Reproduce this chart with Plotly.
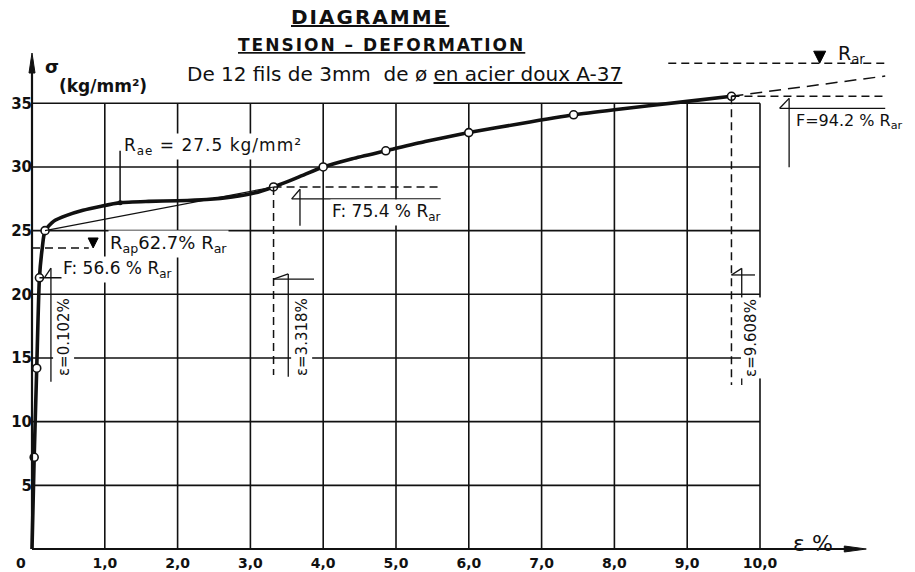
import plotly.graph_objects as go

# Stress-strain curve of a cable of 12 wires, 3 mm diameter, mild steel A-37
strain = [0.0, 0.03, 0.065, 0.102, 0.14, 0.179, 0.3, 0.477, 0.7, 0.934, 1.21, 1.6, 2.0,
          2.4, 2.75, 3.05, 3.318, 3.66, 4.0, 4.4, 4.86, 5.4, 6.0, 6.7, 7.44, 8.0, 9.0, 9.608]
stress = [0.0, 7.2, 14.2, 21.3, 23.6, 25.0, 25.75, 26.2, 26.6, 26.9, 27.2, 27.3, 27.35,
          27.45, 27.65, 27.95, 28.43, 29.2, 30.0, 30.65, 31.27, 32.0, 32.7, 33.4, 34.1, 34.5, 35.15, 35.55]

# measured test points
pt_strain = [0.03, 0.065, 0.102, 0.179, 3.318, 4.0, 4.86, 6.0, 7.44, 9.608]
pt_stress = [7.2, 14.2, 21.3, 25.0, 28.43, 30.0, 31.27, 32.7, 34.1, 35.55]

# characteristic levels, kg/mm²
r_ar_level = 38.15
r_ap_level = 23.64
f_levels = [21.3, 28.43, 35.55]          # F = 56.6 %, 75.4 %, 94.2 % of Rar
eps_marks = [0.102, 3.318, 9.608]        # strain at those levels, %
r_ae_strain = 1.21
r_ae_curve = 27.2

x_ticks = [0, 1, 2, 3, 4, 5, 6, 7, 8, 9, 10]
x_tick_text = ["0", "1,0", "2,0", "3,0", "4,0", "5,0", "6,0", "7,0", "8,0", "9,0", "10,0"]
y_ticks = [5, 10, 15, 20, 25, 30, 35]
y_tick_text = ["5", "10", "15", "20", "25", "30", "35"]

FONT = "DejaVu Sans"
INK = "#111111"

# axis scaling (px per unit) and plot frame
PX_X = 72.8
PX_Y = 12.734
W, H = 915, 572
L, B = 20, 12
x0 = -(32 - L) / PX_X
x1 = x0 + (W - L) / PX_X
y0 = -(H - B - 549) / PX_Y
y1 = y0 + (H - B) / PX_Y

shapes = []


def seg(xa, ya, xb, yb, width=1.5, dash="solid", color=INK):
    shapes.append(dict(type="line", xref="x", yref="y", x0=xa, y0=ya, x1=xb, y1=yb,
                       line=dict(color=color, width=width, dash=dash), layer="above"))


def level_mark(xc, ytip, half_w, height):
    """Filled downward triangle whose tip rests on a level line."""
    hw = half_w / PX_X
    ht = height / PX_Y
    shapes.append(dict(type="path", xref="x", yref="y",
                       path=f"M {xc - hw},{ytip + ht} L {xc + hw},{ytip + ht} L {xc},{ytip} Z",
                       fillcolor="#000000", line=dict(color="#000000", width=1),
                       layer="above"))


# grid: stops at the last tick of each axis
x_max_grid = x_ticks[-1]
y_max_grid = y_ticks[-1]
for xv in x_ticks[1:]:
    shapes.append(dict(type="line", xref="x", yref="y", x0=xv, x1=xv, y0=0, y1=y_max_grid,
                       line=dict(color=INK, width=1.6), layer="below"))
for yv in y_ticks:
    shapes.append(dict(type="line", xref="x", yref="y", x0=0, x1=x_max_grid, y0=yv, y1=yv,
                       line=dict(color=INK, width=1.6), layer="below"))

# axes with arrowheads
y_arrow_top = 38.95
x_arrow_tip = 11.46
seg(0, 0, 0, y_arrow_top - 0.5, width=2.2)
seg(0, 0, x_arrow_tip - 0.1, 0, width=2.2)
shapes.append(dict(type="path", xref="x", yref="y",
                   path=f"M {-3/PX_X},{y_arrow_top - 20/PX_Y} L 0,{y_arrow_top} "
                        f"L {3/PX_X},{y_arrow_top - 20/PX_Y} Z",
                   fillcolor=INK, line=dict(color=INK, width=1)))
shapes.append(dict(type="path", xref="x", yref="y",
                   path=f"M {x_arrow_tip - 22/PX_X},{-3/PX_Y} L {x_arrow_tip},0 "
                        f"L {x_arrow_tip - 22/PX_X},{3/PX_Y} Z",
                   fillcolor=INK, line=dict(color=INK, width=1)))

# secant from the proportional limit point to the 75.4 % point
seg(pt_strain[3], pt_stress[3], eps_marks[1], f_levels[1], width=1.2)

DASH = "8px,5px"
x_right = 11.72

# Rap level
seg(0, r_ap_level, 0.78, r_ap_level, dash=DASH)
level_mark(0.84, r_ap_level, 5, 10)

# F = 56.6 % / eps = 0.102 %
seg(eps_marks[0], f_levels[0], 1.18, f_levels[0], width=1.3)
seg(0.17, f_levels[0], 0.26, 22.05, width=1.3)
seg(0.26, 22.05, 0.26, 13.14, width=1.3)

# F = 75.4 %
seg(eps_marks[1], f_levels[1], 5.61, f_levels[1], dash=DASH)
seg(3.567, 27.49, 5.614, 27.49, width=1.3)
seg(3.567, 27.49, 3.681, 28.25, width=1.3)
seg(3.681, 28.25, 3.681, 25.39, width=1.3)

# eps = 3.318 %
seg(eps_marks[1], f_levels[1], eps_marks[1], 13.66, dash=DASH)
seg(eps_marks[1], 21.2, 3.874, 21.2, width=1.3)
seg(eps_marks[1], 21.2, 3.52, 21.6, width=1.3)
seg(3.52, 21.6, 3.52, 13.53, width=1.3)

# eps = 9.608 %
seg(eps_marks[2], f_levels[2], eps_marks[2], 12.88, dash=DASH)
seg(eps_marks[2], 21.52, 9.931, 21.52, width=1.3)
seg(eps_marks[2], 21.52, 9.749, 22.04, width=1.3)
seg(9.749, 22.04, 9.749, 12.88, width=1.3)

# F = 94.2 % and extrapolation towards Rar
seg(eps_marks[2], f_levels[2], x_right, f_levels[2], dash=DASH)
seg(eps_marks[2], f_levels[2], x_right, 37.14, dash="12px,7px")
seg(10.27, 34.61, x_right, 34.61, width=1.3)
seg(10.27, 34.61, 10.40, 35.39, width=1.3)
seg(10.40, 35.39, 10.40, 29.97, width=1.3)

# Rar level
seg(8.74, r_ar_level, x_right, r_ar_level, dash=DASH)
level_mark(10.82, r_ar_level, 6, 12)

# Rae pointer
seg(r_ae_strain, r_ae_curve, r_ae_strain, 31.27, width=1.5)

fig = go.Figure()

fig.add_trace(go.Scatter(x=strain, y=stress, mode="lines",
                         line=dict(color=INK, width=3.6, shape="spline", smoothing=0.6),
                         hoverinfo="skip", showlegend=False))
fig.add_trace(go.Scatter(x=pt_strain, y=pt_stress, mode="markers",
                         marker=dict(symbol="circle", size=8, color="white",
                                     line=dict(color=INK, width=1.6)),
                         hoverinfo="skip", showlegend=False))
fig.add_trace(go.Scatter(x=[r_ae_strain], y=[r_ae_curve], mode="markers",
                         marker=dict(size=5, color=INK), hoverinfo="skip", showlegend=False))

ann = []


def text(x, y, s, size=15, anchor="left", angle=0, bg=None, weight="normal", ref="y"):
    d = dict(x=x, y=y, xref="x", yref=ref, text=s, showarrow=False, xanchor=anchor,
             yanchor="middle", textangle=angle,
             font=dict(family=FONT, size=size, color=INK, weight=weight))
    if bg:
        d.update(bgcolor=bg, borderpad=1)
    ann.append(d)


# titles
text(4.64, 41.78, '<span style="letter-spacing:2px">DIAGRAMME</span>', size=20,
     anchor="center", weight="bold")
ann[-1]["font"]["lineposition"] = "under"
text(4.80, 39.58, '<span style="letter-spacing:2px">TENSION – DEFORMATION</span>', size=17,
     anchor="center", weight="bold")
ann[-1]["font"]["lineposition"] = "under"
text(5.12, 37.30, 'De 12 fils de 3mm  de ø <u>en acier doux A-37</u>', size=20, anchor="center")

# axis titles
text(0.27, 37.9, "σ", size=18, anchor="center", weight="bold")
text(0.975, 36.36, "(kg/mm²)", size=17, anchor="center", weight="bold")
text(10.73, 0.45, "ε %", size=22, anchor="center")

# the origin label sits left of the axis corner
ann.append(dict(x=x_ticks[0], y=0, xref="x", yref="y", text=x_tick_text[0], showarrow=False,
                xanchor="center", yanchor="middle", xshift=-11, yshift=-14,
                font=dict(family=FONT, size=14, color=INK, weight="bold")))

# level labels
text(1.24, 31.6, '<span style="letter-spacing:1px">R<sub>ae</sub> = 27.5 kg/mm²</span>',
     size=17, bg="white")
text(1.05, 23.95, "R<sub>ap</sub>62.7% R<sub>ar</sub>", size=18, bg="white")
text(0.40, 21.95, "F: 56.6 % R<sub>ar</sub>", size=17, bg="white")
text(4.10, 26.45, "F: 75.4 % R<sub>ar</sub>", size=17, bg="white")
text(10.47, 33.6, "F=94.2 % R<sub>ar</sub>", size=16)
text(11.04, 38.8, "R<sub>ar</sub>", size=19)

# strain labels written along the verticals
text(0.43, 16.67, "ε=0.102%", size=15, anchor="center", angle=-90, bg="white")
text(3.70, 16.67, "ε=3.318%", size=15, anchor="center", angle=-90, bg="white")
text(9.886, 16.55, "ε=9.608%", size=15, anchor="center", angle=-90, bg="white")

fig.update_layout(
    width=W, height=H,
    margin=dict(l=L, r=0, t=0, b=B, autoexpand=False),
    paper_bgcolor="white", plot_bgcolor="white",
    shapes=shapes, annotations=ann, showlegend=False, hovermode=False,
    font=dict(family=FONT, color=INK),
    xaxis=dict(range=[x0, x1], showgrid=False, zeroline=False, showline=False,
               tickmode="array", tickvals=x_ticks[1:], ticktext=x_tick_text[1:],
               ticks="", anchor="free", position=(H - B - 549) / (H - B),
               ticklabelstandoff=4,
               tickfont=dict(family=FONT, size=14, color=INK, weight="bold"),
               automargin=False, fixedrange=True),
    yaxis=dict(range=[y0, y1], showgrid=False, zeroline=False, showline=False,
               tickmode="array", tickvals=y_ticks, ticktext=y_tick_text,
               ticks="", anchor="free", position=(32 - L) / (W - L),
               tickfont=dict(family=FONT, size=15, color=INK, weight="bold"),
               automargin=False, fixedrange=True),
)

fig.write_html("out.html", config={"displayModeBar": False})
